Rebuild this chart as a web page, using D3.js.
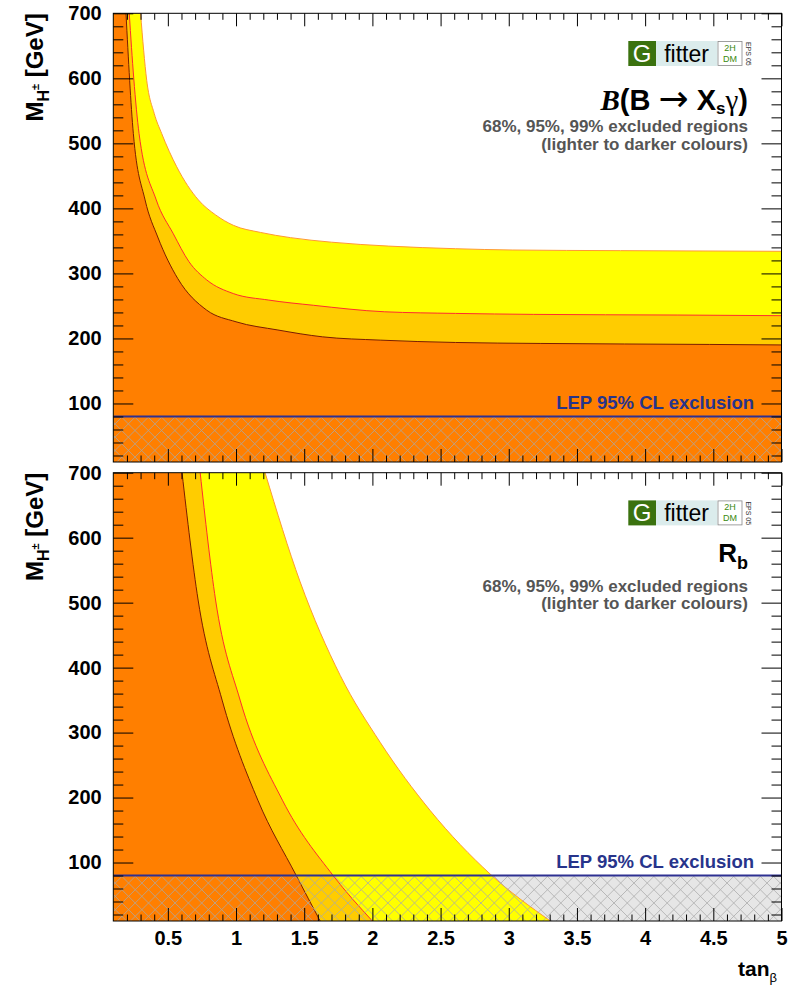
<!DOCTYPE html>
<html>
<head>
<meta charset="utf-8">
<script src="https://cdn.jsdelivr.net/npm/d3@7"></script>
<style>
  body { margin: 0; background: #fff; }
  svg { display: block; }
  text { font-family: "Liberation Sans", Arial, Helvetica, sans-serif; }
</style>
</head>
<body>
<svg id="chart" width="793" height="986"></svg>
<script>
// ---- axis ranges and ticks ----
const tanRange = [0.1, 5];
const massRange = [10, 700];
const xMajorTicks = [0.5, 1, 1.5, 2, 2.5, 3, 3.5, 4, 4.5, 5];
const yMajorTicks = [100, 200, 300, 400, 500, 600, 700];
const lepLimit = 80;

// ---- B -> Xs gamma: excluded-region boundaries (tan beta, M_H+ [GeV]) ----
const bsg68Tan = [0.30, 0.345, 0.40, 0.455, 0.565, 0.724, 0.85, 0.98, 1.18, 1.40, 1.70, 2.12, 2.61, 3.03, 3.82, 5.0];
const bsg68Mass = [700, 597, 546, 515, 464, 413, 390, 374, 363, 355, 348, 342, 338, 336, 335, 334];
const bsg95Tan = [0.217, 0.25, 0.289, 0.415, 0.54, 0.655, 0.785, 0.98, 1.24, 1.567, 2.09, 2.61, 3.18, 4.24, 5.0];
const bsg95Mass = [700, 600, 515, 413, 361, 318, 290, 269, 259, 251, 241, 238.5, 237, 236, 235];
const bsg99Tan = [0.193, 0.247, 0.333, 0.426, 0.573, 0.785, 1.0, 1.307, 1.633, 2.057, 2.61, 3.23, 4.47, 5.0];
const bsg99Mass = [700, 515, 413, 356, 292, 243.5, 225.6, 213, 202.5, 197.4, 193.8, 192.3, 190.8, 190];

// ---- R_b: excluded-region boundaries ----
const rb68Tan = [1.213, 1.47, 1.764, 2.057, 2.424, 2.865, 3.305];
const rb68Mass = [700, 532, 388, 285, 180, 82, 10];
const rb95Tan = [0.737, 0.85, 1.03, 1.34, 1.712, 2.0];
const rb95Mass = [700, 504, 350, 196, 80, 10];
const rb99Tan = [0.604, 0.722, 0.898, 1.16, 1.44, 1.617];
const rb99Mass = [700, 504, 350, 196, 80.6, 10];

const zip = (a, b) => a.map((v, i) => [v, b[i]]);

const panels = [
  {
    top: 13.3, bottom: 462,
    title: "bsg",
    contours: [
      { pts: zip(bsg68Tan, bsg68Mass), fill: "#ffff00", line: "#ff9933" },
      { pts: zip(bsg95Tan, bsg95Mass), fill: "#ffcc00", line: "#ff2d2d" },
      { pts: zip(bsg99Tan, bsg99Mass), fill: "#ff7f00", line: "#7a1c00" }
    ],
    xLabels: false
  },
  {
    top: 472.7, bottom: 921,
    title: "rb",
    contours: [
      { pts: zip(rb68Tan, rb68Mass), fill: "#ffff00", line: "#ff9933" },
      { pts: zip(rb95Tan, rb95Mass), fill: "#ffcc00", line: "#ff2d2d" },
      { pts: zip(rb99Tan, rb99Mass), fill: "#ff7f00", line: "#7a1c00" }
    ],
    xLabels: true
  }
];

const left = 113.3, right = 781.5;
const svg = d3.select("#chart");
const defs = svg.append("defs");

const xMinor = d3.range(2, 50).map(i => i / 10).filter(v => Math.abs(v * 2 - Math.round(v * 2)) > 1e-6);
const yMinor = d3.range(20, 700, 20).filter(v => v % 100 !== 0);

panels.forEach((p, pi) => {
  const x = d3.scaleLinear().domain(tanRange).range([left, right]);
  const y = d3.scaleLinear().domain(massRange).range([p.bottom, p.top]);
  const g = svg.append("g");

  const clipId = "clip" + pi;
  defs.append("clipPath").attr("id", clipId)
    .append("rect").attr("x", left).attr("y", p.top)
    .attr("width", right - left).attr("height", p.bottom - p.top);
  const hatchClip = "hatch" + pi;
  defs.append("clipPath").attr("id", hatchClip)
    .append("rect").attr("x", left).attr("y", y(lepLimit))
    .attr("width", right - left).attr("height", p.bottom - y(lepLimit));

  const plot = g.append("g").attr("clip-path", `url(#${clipId})`);

  plot.append("rect").attr("x", left).attr("y", p.top)
    .attr("width", right - left).attr("height", p.bottom - p.top).attr("fill", "#fff");
  // LEP-excluded band background
  plot.append("rect").attr("x", left).attr("y", y(lepLimit))
    .attr("width", right - left).attr("height", p.bottom - y(lepLimit)).attr("fill", "#e6e6e6");

  const curve = d3.line().x(d => x(d[0])).y(d => y(d[1])).curve(d3.curveMonotoneX);
  const edge = d3.line().x(d => x(d[0])).y(d => y(d[1]));
  p.contours.forEach(c => {
    const last = c.pts[c.pts.length - 1];
    const d = curve(c.pts) + "L" + edge([[last[0], massRange[0]], [tanRange[0], massRange[0]], [tanRange[0], massRange[1]]]).slice(1) + "Z";
    plot.append("path").attr("d", d).attr("fill", c.fill);
  });
  p.contours.forEach(c => {
    plot.append("path").attr("d", curve(c.pts)).attr("fill", "none")
      .attr("stroke", c.line).attr("stroke-width", 1);
  });

  // cross-hatching for the LEP exclusion
  const hatch = plot.append("g").attr("clip-path", `url(#${hatchClip})`)
    .attr("stroke", "#a9a9a9").attr("stroke-width", 0.9).attr("opacity", 0.85);
  const step = 13.3, hh = p.bottom - p.top;
  d3.range(left - hh - step * 2, right + step * 2, step).forEach(x0 => {
    hatch.append("line").attr("x1", x0).attr("y1", p.bottom).attr("x2", x0 + hh).attr("y2", p.bottom - hh);
    hatch.append("line").attr("x1", x0).attr("y1", p.bottom - hh).attr("x2", x0 + hh).attr("y2", p.bottom);
  });

  // LEP line
  plot.append("line").attr("x1", left).attr("x2", right)
    .attr("y1", y(lepLimit)).attr("y2", y(lepLimit))
    .attr("stroke", "#2e3192").attr("stroke-width", 2);

  // axes (ticks pointing inward)
  const axisStyle = sel => {
    sel.select(".domain").remove();
    sel.selectAll("line").attr("stroke", "#000").attr("stroke-width", 1);
    sel.selectAll("text").attr("font-size", 20).attr("font-weight", "bold").attr("fill", "#000")
      .style("font-family", '"Liberation Sans", Arial, sans-serif');
  };
  g.append("g").attr("transform", `translate(0,${p.bottom})`)
    .call(d3.axisBottom(x).tickValues(xMajorTicks).tickSize(-13).tickPadding(10)
      .tickFormat(p.xLabels ? d3.format("") : () => ""))
    .call(axisStyle);
  g.append("g").attr("transform", `translate(0,${p.bottom})`)
    .call(d3.axisBottom(x).tickValues(xMinor).tickSize(-6.5).tickFormat(() => "")).call(axisStyle);
  g.append("g").attr("transform", `translate(0,${p.top})`)
    .call(d3.axisTop(x).tickValues(xMajorTicks).tickSize(-13).tickFormat(() => "")).call(axisStyle);
  g.append("g").attr("transform", `translate(0,${p.top})`)
    .call(d3.axisTop(x).tickValues(xMinor).tickSize(-6.5).tickFormat(() => "")).call(axisStyle);
  g.append("g").attr("transform", `translate(${left},0)`)
    .call(d3.axisLeft(y).tickValues(yMajorTicks).tickSize(-20).tickPadding(11.6)).call(axisStyle);
  g.append("g").attr("transform", `translate(${left},0)`)
    .call(d3.axisLeft(y).tickValues(yMinor).tickSize(-10).tickFormat(() => "")).call(axisStyle);
  g.append("g").attr("transform", `translate(${right},0)`)
    .call(d3.axisRight(y).tickValues(yMajorTicks).tickSize(-20).tickFormat(() => "")).call(axisStyle);
  g.append("g").attr("transform", `translate(${right},0)`)
    .call(d3.axisRight(y).tickValues(yMinor).tickSize(-10).tickFormat(() => "")).call(axisStyle);

  // frame
  g.append("rect").attr("x", left).attr("y", p.top)
    .attr("width", right - left).attr("height", p.bottom - p.top)
    .attr("fill", "none").attr("stroke", "#000").attr("stroke-width", 1);

  // y-axis title
  const yt = g.append("text")
    .attr("transform", `translate(43,${p.top}) rotate(-90)`)
    .attr("text-anchor", "end").attr("font-size", 24).attr("font-weight", "bold");
  yt.append("tspan").text("M");
  yt.append("tspan").attr("font-size", 16).attr("dy", 6).text("H");
  yt.append("tspan").attr("font-size", 11).attr("dy", -10).text("±");
  yt.append("tspan").attr("dy", 4).text(" [GeV]");

  // logo
  const off = p.top;
  const lg = g.append("g").attr("transform", `translate(0,${off + 27.7})`);
  lg.append("rect").attr("x", 628.3).attr("y", 0).attr("width", 27.7).attr("height", 25).attr("fill", "#3b720f");
  lg.append("text").attr("x", 642.2).attr("y", 21).attr("text-anchor", "middle")
    .attr("font-size", 24).attr("fill", "#fff").text("G");
  lg.append("rect").attr("x", 656).attr("y", 0).attr("width", 61.3).attr("height", 25).attr("fill", "#dbecec");
  lg.append("text").attr("x", 686.6).attr("y", 20.5).attr("text-anchor", "middle")
    .attr("font-size", 23).attr("fill", "#000").text("fitter");
  lg.append("rect").attr("x", 718).attr("y", 0.5).attr("width", 24).attr("height", 24)
    .attr("fill", "#fff").attr("stroke", "#888").attr("stroke-width", 0.8);
  lg.append("text").attr("x", 730).attr("y", 10).attr("text-anchor", "middle")
    .attr("font-size", 9).attr("fill", "#3b8a0f").text("2H");
  lg.append("text").attr("x", 730).attr("y", 21).attr("text-anchor", "middle")
    .attr("font-size", 9).attr("fill", "#3b8a0f").text("DM");
  lg.append("text").attr("transform", "translate(745.5,1) rotate(90)")
    .attr("font-size", 7).attr("fill", "#333").text("EPS 05");

  // title
  const tx = 748;
  if (p.title === "bsg") {
    const t = g.append("text").attr("x", tx).attr("y", off + 96.7).attr("text-anchor", "end")
      .attr("font-size", 29).attr("font-weight", "bold");
    t.append("tspan").style("font-family", '"Liberation Serif", serif').attr("font-style", "italic").text("B");
    t.append("tspan").text("(B ");
    t.append("tspan").style("font-family", '"DejaVu Sans", sans-serif').attr("font-weight", "normal")
      .attr("font-size", 36).attr("dy", 1).text("→");
    t.append("tspan").attr("dy", -1).text(" X");
    t.append("tspan").attr("font-size", 17).attr("dy", 4).text("s");
    t.append("tspan").attr("dy", -4).style("font-family", '"Liberation Serif", serif').attr("font-weight", "normal").text("γ");
    t.append("tspan").text(")");
  } else {
    const t = g.append("text").attr("x", tx).attr("y", off + 89).attr("text-anchor", "end")
      .attr("font-size", 26).attr("font-weight", "bold");
    t.append("tspan").text("R");
    t.append("tspan").attr("font-size", 18).attr("dy", 7).text("b");
  }
  g.append("text").attr("x", tx).attr("y", off + 119).attr("text-anchor", "end")
    .attr("font-size", 17).attr("font-weight", "bold").attr("fill", "#555").text("68%, 95%, 99% excluded regions");
  g.append("text").attr("x", tx).attr("y", off + 136.5).attr("text-anchor", "end")
    .attr("font-size", 17).attr("font-weight", "bold").attr("fill", "#555").text("(lighter to darker colours)");

  // LEP label
  g.append("text").attr("x", 754).attr("y", y(lepLimit) - 7.5).attr("text-anchor", "end")
    .attr("font-size", 18.5).attr("font-weight", "bold").attr("fill", "#27348b").text("LEP 95% CL exclusion");
});

// x-axis title
const xt = svg.append("text").attr("x", 777).attr("y", 976).attr("text-anchor", "end")
  .attr("font-size", 21).attr("font-weight", "bold");
xt.append("tspan").text("tan");
xt.append("tspan").attr("font-size", 13).attr("font-weight", "normal").attr("dy", 6).text("β");
</script>
</body>
</html>
